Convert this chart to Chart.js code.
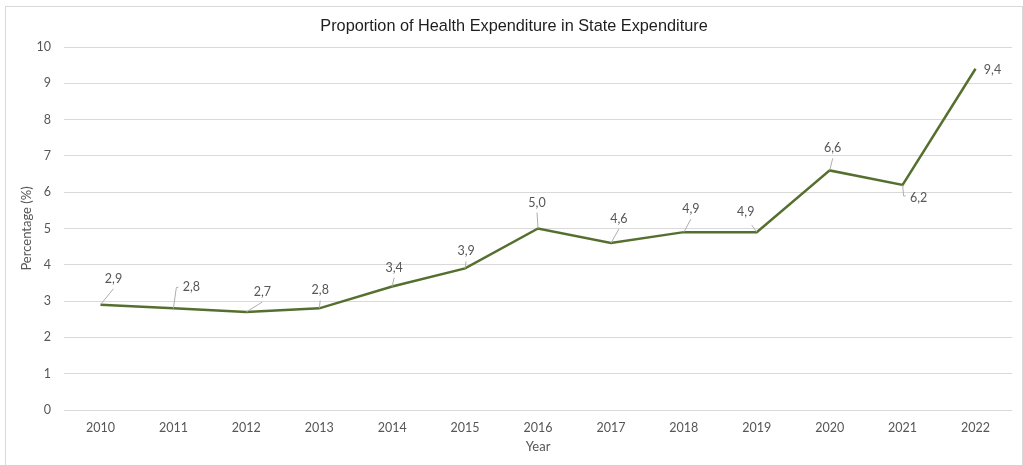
<!DOCTYPE html>
<html>
<head>
<meta charset="utf-8">
<title>Health Expenditure</title>
<script src="https://cdn.jsdelivr.net/npm/chart.js@4.4.1/dist/chart.umd.min.js"></script>
<style>
    html, body { margin: 0; padding: 0; background: #fff; overflow: hidden; }
    .frame {
        position: absolute; left: 5px; top: 6px;
        width: 1018px; height: 480px;
        border: 1px solid #d9d9d9; box-sizing: border-box;
    }
    .wrap { position: absolute; left: 0; top: 0; width: 1023px; height: 465px; }
</style>
</head>
<body>
<div class="frame"></div>
<div class="wrap"><canvas id="lineChart" width="1023" height="465"></canvas></div>
<script>
// Data
const years = ['2010', '2011', '2012', '2013', '2014', '2015', '2016', '2017', '2018', '2019', '2020', '2021', '2022'];
const healthShare = [2.9, 2.8, 2.7, 2.8, 3.4, 3.9, 5.0, 4.6, 4.9, 4.9, 6.6, 6.2, 9.4];
const yMin = 0;
const yMax = 10;
const yStep = 1;

const chartTitleText = 'Proportion of Health Expenditure in State Expenditure';

// Where each value label sits relative to its point, and how its leader line runs
const labelOffsets = [[13, -26], [18, -21], [16, -20], [1, -18], [2, -19], [1, -17], [-1, -26],
                      [8, -24], [7, -23], [-11, -20], [3, -22], [16, 13], [17, 1]];
const leaderKinds = ['bottom', 'elbowUp', 'bottom', 'bottom', 'bottom', 'bottom', 'bottom',
                     'bottom', 'bottom', 'bottomRight', 'bottom', 'elbowDown', 'none'];

const TEXT_GREY = '#565656';
const GRID_GREY = '#d9d9d9';
const LINE_GREEN = '#55702e';
const AXIS_FONT = { family: 'Lato', size: 12.5 };
const AXIS_TITLE_FONT = { family: 'Lato', size: 13 };

function formatValue(v) {
    return v.toFixed(1).replace('.', ',');
}

// Title drawn above the plot, centred on the frame
const chartTitle = {
    id: 'chartTitle',
    afterDraw(chart) {
        const ctx = chart.ctx;
        ctx.save();
        ctx.font = '16.3px "Liberation Sans", Arial, sans-serif';
        ctx.fillStyle = '#1e1e1e';
        ctx.textAlign = 'center';
        ctx.textBaseline = 'alphabetic';
        ctx.fillText(chartTitleText, 514, 31);
        ctx.restore();
    }
};

// Value labels with thin leader lines back to the point
const valueLabels = {
    id: 'valueLabels',
    afterDatasetsDraw(chart) {
        const ctx = chart.ctx;
        const meta = chart.getDatasetMeta(0);
        ctx.save();
        ctx.strokeStyle = '#aeaeae';
        ctx.lineWidth = 1;
        meta.data.forEach((pt, i) => {
            const cx = pt.x + labelOffsets[i][0];
            const cy = pt.y + labelOffsets[i][1];
            const kind = leaderKinds[i];
            if (kind === 'none') return;
            ctx.beginPath();
            ctx.moveTo(pt.x, pt.y);
            if (kind === 'bottom') {
                ctx.lineTo(cx, cy + 10);
            } else if (kind === 'bottomRight') {
                ctx.lineTo(cx + 6, cy + 13);
            } else if (kind === 'elbowUp') {
                ctx.lineTo(pt.x + 3, cy);
                ctx.lineTo(cx - 13, cy);
            } else if (kind === 'elbowDown') {
                ctx.lineTo(pt.x + 1, cy - 2);
                ctx.lineTo(cx - 13, cy - 2);
            }
            ctx.stroke();
        });

        ctx.font = '12.5px Lato, "Open Sans", sans-serif';
        ctx.fillStyle = TEXT_GREY;
        ctx.textAlign = 'center';
        ctx.textBaseline = 'middle';
        meta.data.forEach((pt, i) => {
            const cx = pt.x + labelOffsets[i][0];
            const cy = pt.y + labelOffsets[i][1];
            ctx.fillText(formatValue(healthShare[i]), cx, cy);
        });
        ctx.restore();
    }
};

function initLineChart() {
    const ctx = document.getElementById('lineChart').getContext('2d');

    const data = {
        labels: years,
        datasets: [{
            label: 'Health expenditure share',
            data: healthShare,
            borderColor: LINE_GREEN,
            backgroundColor: LINE_GREEN,
            borderWidth: 2.5,
            pointRadius: 0,
            pointHoverRadius: 0,
            tension: 0,
            fill: false
        }]
    };

    const config = {
        type: 'line',
        data: data,
        options: {
            responsive: false,
            animation: false,
            layout: {
                padding: { top: 47, right: 11, left: 0, bottom: 0 }
            },
            plugins: {
                legend: { display: false },
                tooltip: { enabled: false },
                title: { display: false }
            },
            scales: {
                x: {
                    offset: true,
                    grid: { display: false, drawTicks: false },
                    border: { display: false },
                    ticks: {
                        color: TEXT_GREY,
                        font: AXIS_FONT,
                        padding: 10,
                        maxRotation: 0
                    },
                    title: {
                        display: true,
                        text: 'Year',
                        color: TEXT_GREY,
                        font: AXIS_TITLE_FONT,
                        padding: { top: 4, bottom: 10 }
                    },
                    afterFit(scale) { scale.height = 55; }
                },
                y: {
                    min: yMin,
                    max: yMax,
                    grid: { color: GRID_GREY, lineWidth: 1, drawTicks: false },
                    border: { display: false },
                    ticks: {
                        stepSize: yStep,
                        color: TEXT_GREY,
                        font: AXIS_FONT,
                        padding: 13
                    },
                    title: {
                        display: true,
                        text: 'Percentage (%)',
                        color: TEXT_GREY,
                        font: AXIS_TITLE_FONT,
                        padding: { top: 19, bottom: 0 }
                    },
                    afterFit(scale) { scale.width = 64; }
                }
            }
        },
        plugins: [valueLabels, chartTitle]
    };

    new Chart(ctx, config);
}

document.addEventListener('DOMContentLoaded', function() {
    initLineChart();
});
</script>
</body>
</html>
